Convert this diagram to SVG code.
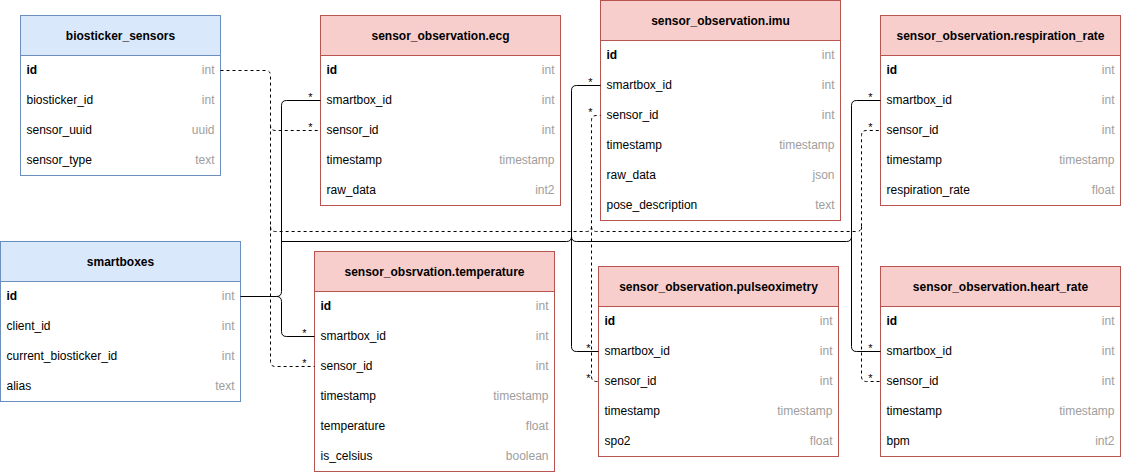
<svg xmlns="http://www.w3.org/2000/svg" width="1121" height="476" viewBox="0 0 1121 476">
<style>
text{font-family:"Liberation Sans",Arial,Helvetica,sans-serif;font-size:12px}
.hb{fill:#dae8fc;stroke:#6c8ebf}
.bb{fill:#ffffff;stroke:#6c8ebf}
.hr{fill:#f8cecc;stroke:#b85450}
.br{fill:#ffffff;stroke:#b85450}
.title{font-weight:bold;text-anchor:middle;fill:#000}
.f{fill:#000}
.pk{fill:#000;font-weight:bold}
.t{fill:#9e9e9e;text-anchor:end}
.e{fill:none;stroke:#000;stroke-width:1}
.d{fill:none;stroke:#000;stroke-width:1;stroke-dasharray:3 3}
.m{font-size:11px;text-anchor:middle;fill:#000}
</style>
<g id="biosticker_sensors">
<rect class="bb" x="20.5" y="15.5" width="200" height="160"/>
<rect class="hb" x="20.5" y="15.5" width="200" height="40"/>
<text class="title" x="120.5" y="39.5">biosticker_sensors</text>
<text class="pk" x="26.5" y="73.5">id</text><text class="t" x="214.5" y="73.5">int</text>
<text class="f" x="26.5" y="103.5">biosticker_id</text><text class="t" x="214.5" y="103.5">int</text>
<text class="f" x="26.5" y="133.5">sensor_uuid</text><text class="t" x="214.5" y="133.5">uuid</text>
<text class="f" x="26.5" y="163.5">sensor_type</text><text class="t" x="214.5" y="163.5">text</text>
</g>
<g id="smartboxes">
<rect class="bb" x="0.5" y="241.5" width="240" height="160"/>
<rect class="hb" x="0.5" y="241.5" width="240" height="40"/>
<text class="title" x="120.5" y="265.5">smartboxes</text>
<text class="pk" x="6.5" y="299.5">id</text><text class="t" x="234.5" y="299.5">int</text>
<text class="f" x="6.5" y="329.5">client_id</text><text class="t" x="234.5" y="329.5">int</text>
<text class="f" x="6.5" y="359.5">current_biosticker_id</text><text class="t" x="234.5" y="359.5">int</text>
<text class="f" x="6.5" y="389.5">alias</text><text class="t" x="234.5" y="389.5">text</text>
</g>
<g id="sensor_observation_ecg">
<rect class="br" x="320.5" y="15.5" width="240" height="190"/>
<rect class="hr" x="320.5" y="15.5" width="240" height="40"/>
<text class="title" x="440.5" y="39.5">sensor_observation.ecg</text>
<text class="pk" x="326.5" y="73.5">id</text><text class="t" x="554.5" y="73.5">int</text>
<text class="f" x="326.5" y="103.5">smartbox_id</text><text class="t" x="554.5" y="103.5">int</text>
<text class="f" x="326.5" y="133.5">sensor_id</text><text class="t" x="554.5" y="133.5">int</text>
<text class="f" x="326.5" y="163.5">timestamp</text><text class="t" x="554.5" y="163.5">timestamp</text>
<text class="f" x="326.5" y="193.5">raw_data</text><text class="t" x="554.5" y="193.5">int2</text>
</g>
<g id="sensor_observation_imu">
<rect class="br" x="600.5" y="0.5" width="240" height="220"/>
<rect class="hr" x="600.5" y="0.5" width="240" height="40"/>
<text class="title" x="720.5" y="24.5">sensor_observation.imu</text>
<text class="pk" x="606.5" y="58.5">id</text><text class="t" x="834.5" y="58.5">int</text>
<text class="f" x="606.5" y="88.5">smartbox_id</text><text class="t" x="834.5" y="88.5">int</text>
<text class="f" x="606.5" y="118.5">sensor_id</text><text class="t" x="834.5" y="118.5">int</text>
<text class="f" x="606.5" y="148.5">timestamp</text><text class="t" x="834.5" y="148.5">timestamp</text>
<text class="f" x="606.5" y="178.5">raw_data</text><text class="t" x="834.5" y="178.5">json</text>
<text class="f" x="606.5" y="208.5">pose_description</text><text class="t" x="834.5" y="208.5">text</text>
</g>
<g id="sensor_observation_respiration_rate">
<rect class="br" x="880.5" y="15.5" width="240" height="190"/>
<rect class="hr" x="880.5" y="15.5" width="240" height="40"/>
<text class="title" x="1000.5" y="39.5">sensor_observation.respiration_rate</text>
<text class="pk" x="886.5" y="73.5">id</text><text class="t" x="1114.5" y="73.5">int</text>
<text class="f" x="886.5" y="103.5">smartbox_id</text><text class="t" x="1114.5" y="103.5">int</text>
<text class="f" x="886.5" y="133.5">sensor_id</text><text class="t" x="1114.5" y="133.5">int</text>
<text class="f" x="886.5" y="163.5">timestamp</text><text class="t" x="1114.5" y="163.5">timestamp</text>
<text class="f" x="886.5" y="193.5">respiration_rate</text><text class="t" x="1114.5" y="193.5">float</text>
</g>
<g id="sensor_obsrvation_temperature">
<rect class="br" x="314.5" y="251.5" width="240" height="220"/>
<rect class="hr" x="314.5" y="251.5" width="240" height="40"/>
<text class="title" x="434.5" y="275.5">sensor_obsrvation.temperature</text>
<text class="pk" x="320.5" y="309.5">id</text><text class="t" x="548.5" y="309.5">int</text>
<text class="f" x="320.5" y="339.5">smartbox_id</text><text class="t" x="548.5" y="339.5">int</text>
<text class="f" x="320.5" y="369.5">sensor_id</text><text class="t" x="548.5" y="369.5">int</text>
<text class="f" x="320.5" y="399.5">timestamp</text><text class="t" x="548.5" y="399.5">timestamp</text>
<text class="f" x="320.5" y="429.5">temperature</text><text class="t" x="548.5" y="429.5">float</text>
<text class="f" x="320.5" y="459.5">is_celsius</text><text class="t" x="548.5" y="459.5">boolean</text>
</g>
<g id="sensor_observation_pulseoximetry">
<rect class="br" x="598.5" y="266.5" width="240" height="190"/>
<rect class="hr" x="598.5" y="266.5" width="240" height="40"/>
<text class="title" x="718.5" y="290.5">sensor_observation.pulseoximetry</text>
<text class="pk" x="604.5" y="324.5">id</text><text class="t" x="832.5" y="324.5">int</text>
<text class="f" x="604.5" y="354.5">smartbox_id</text><text class="t" x="832.5" y="354.5">int</text>
<text class="f" x="604.5" y="384.5">sensor_id</text><text class="t" x="832.5" y="384.5">int</text>
<text class="f" x="604.5" y="414.5">timestamp</text><text class="t" x="832.5" y="414.5">timestamp</text>
<text class="f" x="604.5" y="444.5">spo2</text><text class="t" x="832.5" y="444.5">float</text>
</g>
<g id="sensor_observation_heart_rate">
<rect class="br" x="880.5" y="266.5" width="240" height="190"/>
<rect class="hr" x="880.5" y="266.5" width="240" height="40"/>
<text class="title" x="1000.5" y="290.5">sensor_observation.heart_rate</text>
<text class="pk" x="886.5" y="324.5">id</text><text class="t" x="1114.5" y="324.5">int</text>
<text class="f" x="886.5" y="354.5">smartbox_id</text><text class="t" x="1114.5" y="354.5">int</text>
<text class="f" x="886.5" y="384.5">sensor_id</text><text class="t" x="1114.5" y="384.5">int</text>
<text class="f" x="886.5" y="414.5">timestamp</text><text class="t" x="1114.5" y="414.5">timestamp</text>
<text class="f" x="886.5" y="444.5">bpm</text><text class="t" x="1114.5" y="444.5">int2</text>
</g>
<g id="connectors">
<path class="e" d="M240.5,296.5 H276.5 Q281.5,296.5 281.5,291.5 V105.5 Q281.5,100.5 286.5,100.5 H320.5"/>
<path class="e" d="M276.5,296.5 Q281.5,296.5 281.5,301.5 V331.5 Q281.5,336.5 286.5,336.5 H314.5"/>
<path class="e" d="M281.5,241.5 H566.5 Q571.5,241.5 571.5,236.5 V90.5 Q571.5,85.5 576.5,85.5 H600.5"/>
<path class="e" d="M571.5,236.5 V346.5 Q571.5,351.5 576.5,351.5 H598.5"/>
<path class="e" d="M571.5,236.5 Q571.5,241.5 576.5,241.5 H846.5 Q851.5,241.5 851.5,236.5 V105.5 Q851.5,100.5 856.5,100.5 H880.5"/>
<path class="e" d="M851.5,236.5 V346.5 Q851.5,351.5 856.5,351.5 H880.5"/>
<path class="d" d="M220.5,70.5 H265.5 Q270.5,70.5 270.5,75.5 V125.5 Q270.5,130.5 275.5,130.5 H320.5"/>
<path class="d" d="M270.5,125.5 V361.5 Q270.5,366.5 275.5,366.5 H314.5"/>
<path class="d" d="M270.5,226.5 Q270.5,231.5 275.5,231.5 H586.5 Q591.5,231.5 591.5,226.5 V120.5 Q591.5,115.5 596.5,115.5 H600.5"/>
<path class="d" d="M591.5,226.5 V376.5 Q591.5,381.5 596.5,381.5 H598.5"/>
<path class="d" d="M591.5,226.5 Q591.5,231.5 596.5,231.5 H856.5 Q861.5,231.5 861.5,226.5 V135.5 Q861.5,130.5 866.5,130.5 H880.5"/>
<path class="d" d="M861.5,226.5 V376.5 Q861.5,381.5 866.5,381.5 H880.5"/>
<text class="m" x="310.5" y="100.5">*</text>
<text class="m" x="310.5" y="130.5">*</text>
<text class="m" x="304.5" y="336.5">*</text>
<text class="m" x="304.5" y="366.5">*</text>
<text class="m" x="590.5" y="85.5">*</text>
<text class="m" x="590.5" y="115.5">*</text>
<text class="m" x="588.5" y="351.5">*</text>
<text class="m" x="588.5" y="381.5">*</text>
<text class="m" x="870.5" y="100.5">*</text>
<text class="m" x="870.5" y="130.5">*</text>
<text class="m" x="870.5" y="351.5">*</text>
<text class="m" x="870.5" y="381.5">*</text>
</g>
</svg>
